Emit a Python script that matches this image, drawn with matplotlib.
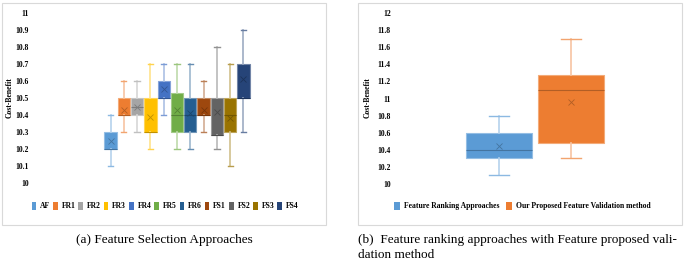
import matplotlib
matplotlib.use("Agg")
import matplotlib.pyplot as plt
from matplotlib.patches import Patch, Rectangle
from matplotlib.colors import to_rgb

# Panel (a): feature selection approaches
names_a = ["AF", "FR1", "FR2", "FR3", "FR4", "FR5", "FR6", "FS1", "FS2", "FS3", "FS4"]
colors_a = ["#5B9BD5", "#ED7D31", "#A5A5A5", "#FFC000", "#4472C4", "#70AD47",
            "#255E91", "#9E480E", "#636363", "#997300", "#264478"]
low_a = [10.1, 10.3, 10.3, 10.2, 10.4, 10.2, 10.2, 10.3, 10.2, 10.1, 10.3]
q1_a = [10.2, 10.4, 10.4, 10.3, 10.5, 10.3, 10.3, 10.4, 10.28, 10.3, 10.5]
med_a = [10.2, 10.4, 10.45, 10.3, 10.5, 10.4, 10.4, 10.4, 10.28, 10.4, 10.5]
q3_a = [10.3, 10.5, 10.5, 10.5, 10.6, 10.53, 10.5, 10.5, 10.5, 10.5, 10.7]
high_a = [10.4, 10.6, 10.6, 10.7, 10.7, 10.7, 10.7, 10.6, 10.8, 10.7, 10.9]
mean_a = [10.25, 10.43, 10.45, 10.39, 10.55, 10.43, 10.41, 10.43, 10.42, 10.38, 10.61]
yticks_a = [10, 10.1, 10.2, 10.3, 10.4, 10.5, 10.6, 10.7, 10.8, 10.9, 11]

# Panel (b): ranking approaches vs proposed validation
names_b = ["Feature Ranking Approaches", "Our Proposed Feature Validation method"]
colors_b = ["#5B9BD5", "#ED7D31"]
low_b = [10.1, 10.3]
q1_b = [10.3, 10.48]
med_b = [10.4, 11.1]
q3_b = [10.6, 11.28]
high_b = [10.8, 11.7]
mean_b = [10.44, 10.96]
yticks_b = [10, 10.2, 10.4, 10.6, 10.8, 11, 11.2, 11.4, 11.6, 11.8, 12]

W, H = 685, 261
SERIF = ["Liberation Serif", "DejaVu Serif"]


def mix(c, t, amount):
    c, t = to_rgb(c), to_rgb(t)
    return tuple(a + (b - a) * amount for a, b in zip(c, t))


def draw_boxes(ax, names, colors, low, q1, med, q3, high, mean, width, capw):
    for i in range(len(names)):
        st = dict(whislo=low[i], q1=q1[i], med=med[i], q3=q3[i], whishi=high[i],
                  mean=mean[i], fliers=[])
        c = colors[i]
        light = mix(c, "white", 0.55)
        dark = mix(c, "black", 0.25)
        ax.bxp([st], positions=[i], widths=width, patch_artist=True, showmeans=True,
               capwidths=capw,
               boxprops=dict(facecolor=c, edgecolor=mix(c, "white", 0.35), linewidth=0.8),
               medianprops=dict(color=dark, linewidth=0.8),
               whiskerprops=dict(color=light, linewidth=1.2),
               capprops=dict(color=mix(c, "white", 0.3), linewidth=1.0),
               meanprops=dict(marker="x", markeredgecolor=dark, markersize=4,
                              markeredgewidth=0.6))


def style(ax, ticks, ylim):
    ax.set_ylim(*ylim)
    ax.set_yticks(ticks)
    ax.set_yticklabels([f"{t:g}" for t in ticks], fontfamily=SERIF, fontweight="bold",
                       fontsize=5.5)
    ax.tick_params(axis="y", length=0, pad=3)
    ax.set_xticks([])
    for s in ax.spines.values():
        s.set_visible(False)
    ax.patch.set_alpha(0)


fig = plt.figure(figsize=(W / 100, H / 100), dpi=100)

# panel frames
for x0, x1 in [(2, 326), (358, 682)]:
    fig.patches.append(Rectangle((x0 / W, 1 - 225 / H), (x1 - x0) / W, 222 / H,
                                 transform=fig.transFigure, fill=False,
                                 edgecolor="#D9D9D9", linewidth=0.8))

ax1 = fig.add_axes([33 / W, 1 - 183 / H, 288 / W, 170 / H])
draw_boxes(ax1, names_a, colors_a, low_a, q1_a, med_a, q3_a, high_a, mean_a, 0.93, 0.4)
style(ax1, yticks_a, (10, 11))
ax1.set_xlim(5 - 10.83, 5 + 10.83)

ax2 = fig.add_axes([395 / W, 1 - 184 / H, 280 / W, 171 / H])
draw_boxes(ax2, names_b, colors_b, low_b, q1_b, med_b, q3_b, high_b, mean_b, 0.92, 0.28)
style(ax2, yticks_b, (10, 12))
ax2.set_xlim(0.5 - 1.945, 0.5 + 1.945)

for x in (10 / W, 368 / W):
    fig.text(x, 1 - 98 / H, "Cost-Benefit", rotation=90, ha="center", va="center",
             fontfamily=SERIF, fontweight="bold", fontsize=5.5)

leg_font = dict(family=SERIF, weight="bold", size=5.5)
h1 = [Patch(facecolor=c, label=n) for n, c in zip(names_a, colors_a)]
fig.legend(handles=h1, loc="center", bbox_to_anchor=(165 / W, 1 - 206 / H), ncol=11,
           frameon=False, prop=leg_font, handlelength=0.6, handleheight=1.3,
           handletextpad=0.5, columnspacing=0.4)
h2 = [Patch(facecolor=c, label=n) for n, c in zip(names_b, colors_b)]
fig.legend(handles=h2, loc="center", bbox_to_anchor=(522 / W, 1 - 206 / H), ncol=2,
           frameon=False, prop=leg_font, handlelength=0.8, handleheight=1.3,
           handletextpad=0.5, columnspacing=0.9)

fig.text(164 / W, 1 - 240 / H, "(a) Feature Selection Approaches", ha="center",
         va="center", fontfamily=SERIF, fontsize=9.5)
fig.text(358 / W, 1 - 240 / H, "(b)  Feature ranking approaches with Feature proposed vali-",
         ha="left", va="center", fontfamily=SERIF, fontsize=9.5)
fig.text(358 / W, 1 - 255 / H, "dation method", ha="left", va="center",
         fontfamily=SERIF, fontsize=9.5)

fig.savefig("out.png", dpi=100)
